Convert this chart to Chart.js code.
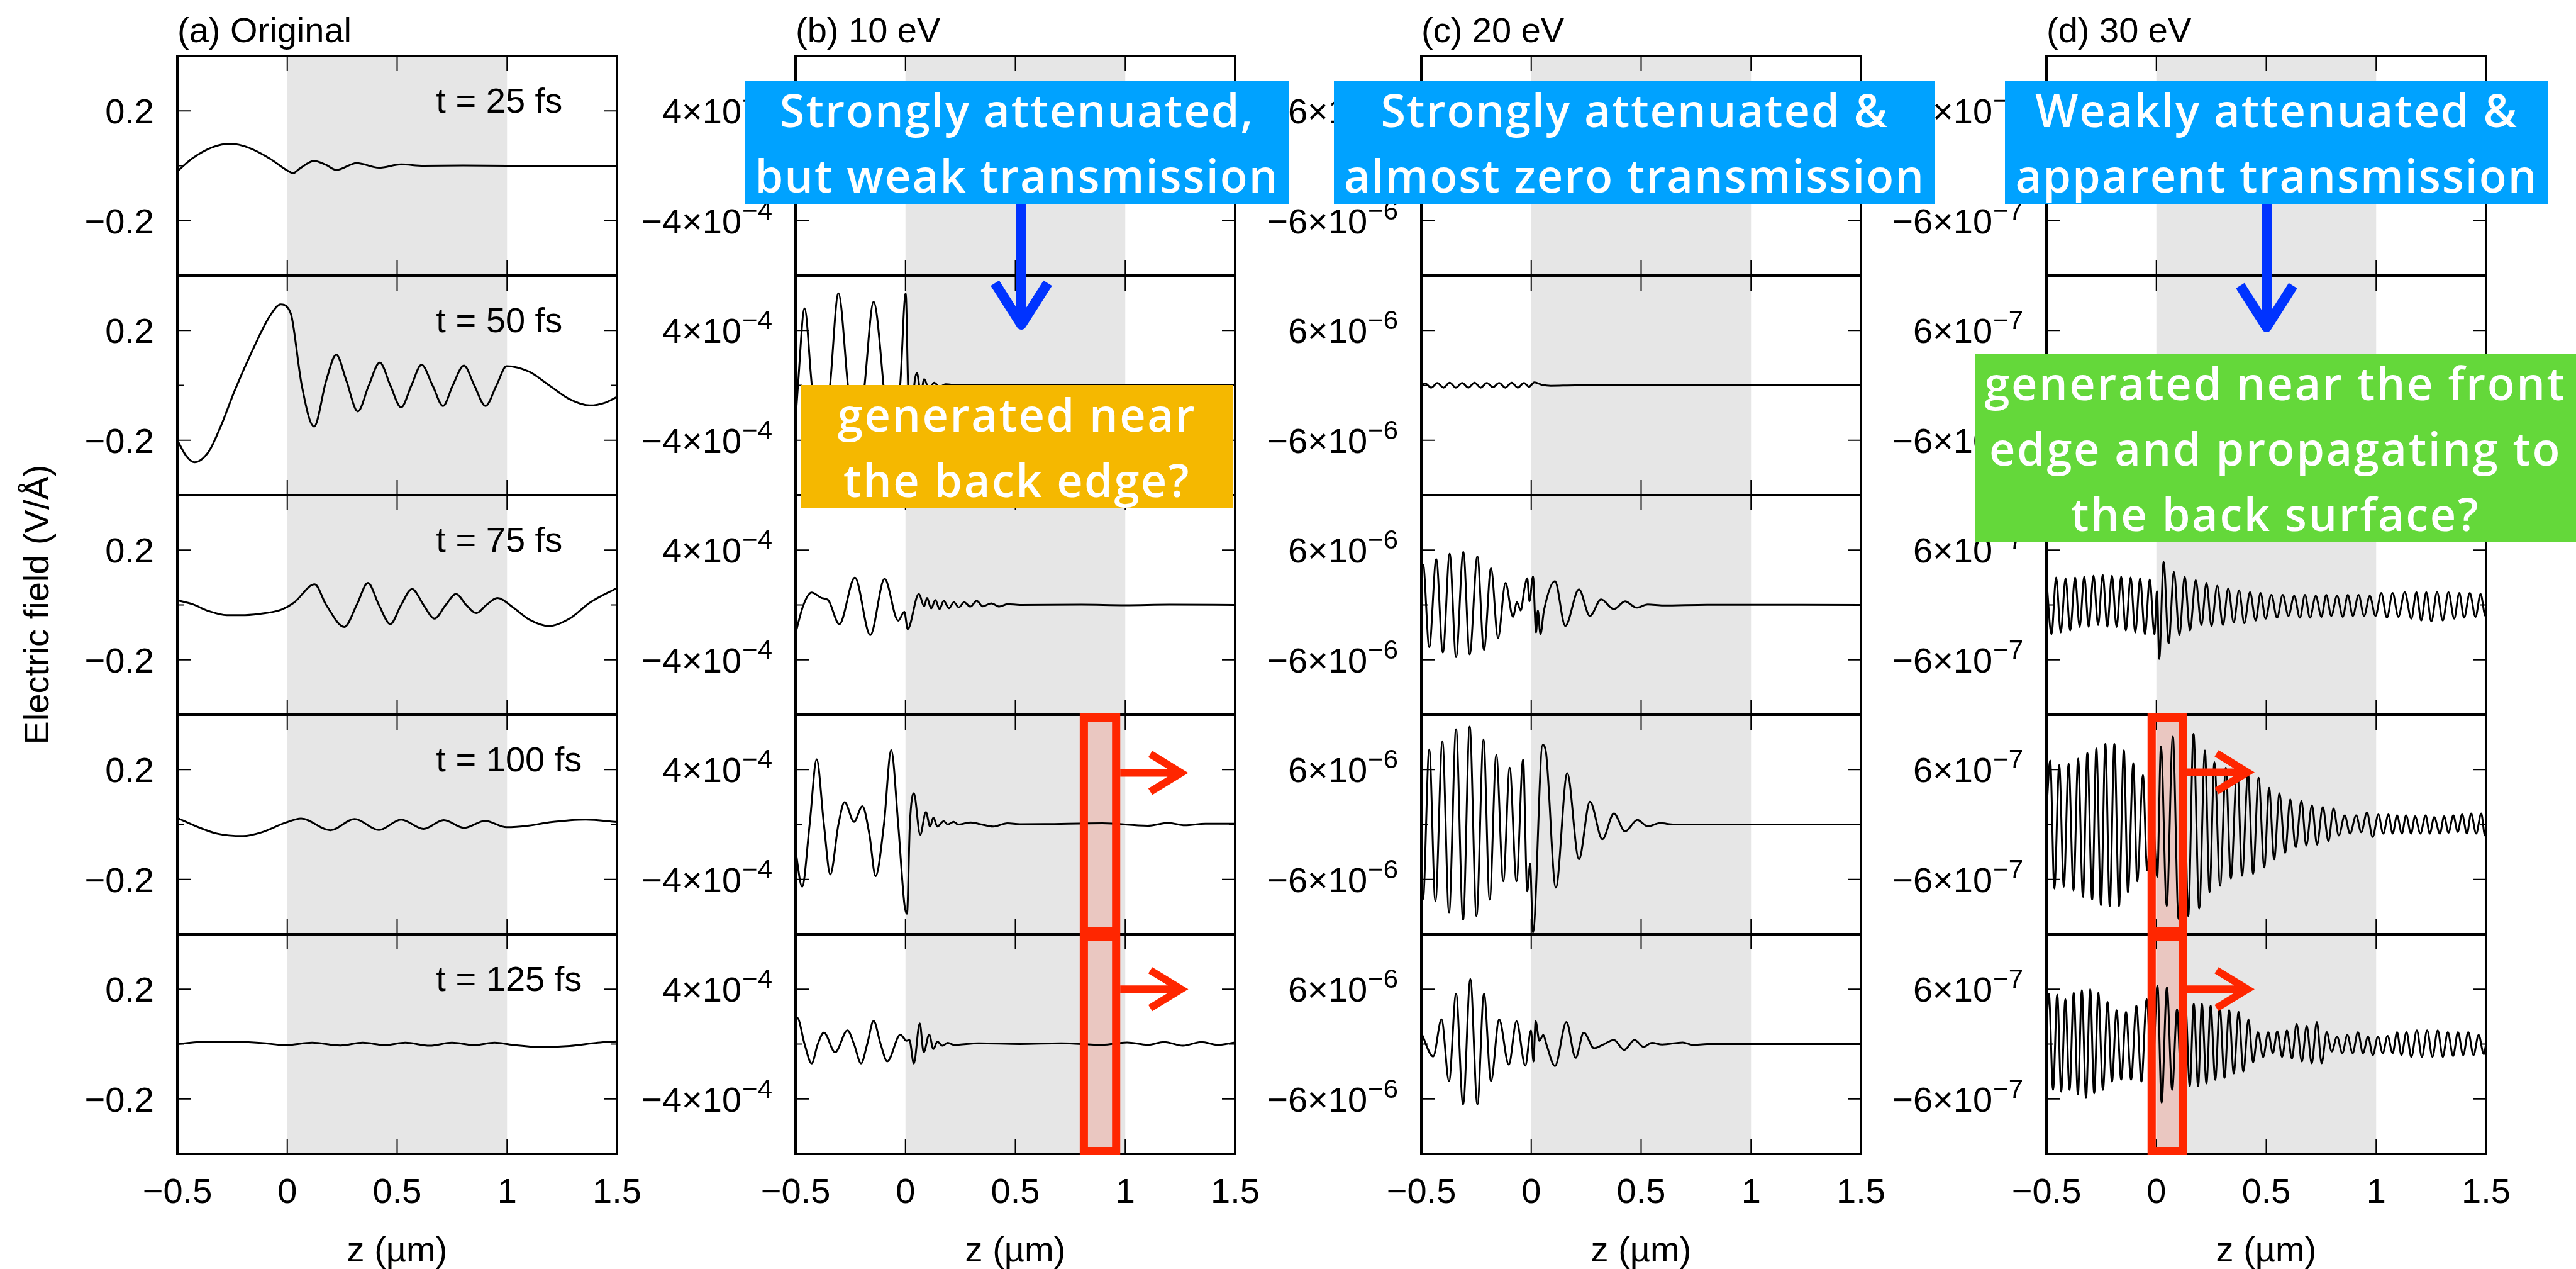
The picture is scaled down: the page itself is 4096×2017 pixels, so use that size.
<!DOCTYPE html>
<html>
<head>
<meta charset="utf-8">
<script src="https://cdn.jsdelivr.net/npm/chart.js@4.4.1/dist/chart.umd.min.js"></script>
<style>
  html, body { margin: 0; padding: 0; background: #fff; }
  body { width: 4096px; height: 2017px; position: relative; overflow: hidden;
         font-family: "Liberation Sans", Arial, sans-serif; }
  canvas { position: absolute; }
  .lbl { position: absolute; white-space: nowrap; line-height: 1; color: #000; }
  .note { position: absolute; display: flex; flex-direction: column; justify-content: center;
          align-items: center; color: #fff; font-family: "Open Sans", sans-serif; font-weight: 600;
          font-size: 72px; line-height: 104px; white-space: nowrap; }
  svg { position: absolute; left: 0; top: 0; }
</style>
</head>
<body>
<script>
// axis / label text
const titles = ['(a) Original', '(b) 10 eV', '(c) 20 eV', '(d) 30 eV'];
const times = ['t = 25 fs', 't = 50 fs', 't = 75 fs', 't = 100 fs', 't = 125 fs'];
const zTicks = [-0.5, 0, 0.5, 1, 1.5];
const zTickLabels = ['−0.5', '0', '0.5', '1', '1.5'];
// column a in V/Å, columns b, c, d in units of 10^-exp V/Å
const yTickValue = [0.2, 4, 6, 6];
const yTickExp = [null, 4, 6, 7];
const yRange = [0.4, 8, 12, 12];

// (a) original pulse, [z (µm), E]
const orig25 = [[-0.5,-0.02],[-0.432,0.027],[-0.339,0.068],[-0.256,0.08],[-0.173,0.065],[-0.081,0.027],[0.002,-0.018],[0.026,-0.027],[0.057,-0.01],[0.122,0.018],[0.177,0.003],[0.223,-0.015],[0.316,0.01],[0.417,-0.007],[0.518,0.005],[0.62,0],[0.8,0.001],[1.0,0],[1.5,0]];
const orig50 = [[-0.5,-0.2],[-0.459,-0.258],[-0.423,-0.28],[-0.358,-0.242],[-0.303,-0.15],[-0.238,-0.017],[-0.155,0.133],[-0.081,0.25],[-0.03,0.295],[0.002,0.283],[0.02,0.25],[0.066,0],[0.122,-0.15],[0.177,0.017],[0.223,0.112],[0.269,0.017],[0.321,-0.095],[0.371,0],[0.421,0.083],[0.469,0],[0.518,-0.08],[0.565,0],[0.611,0.075],[0.661,0],[0.709,-0.075],[0.753,0],[0.804,0.072],[0.851,0],[0.902,-0.075],[0.952,0],[0.998,0.07],[1.1,0.05],[1.192,0],[1.284,-0.05],[1.376,-0.073],[1.45,-0.062],[1.5,-0.042]];
const orig75 = [[-0.5,0.017],[-0.432,0.003],[-0.358,-0.022],[-0.275,-0.037],[-0.192,-0.037],[-0.1,-0.03],[-0.026,-0.017],[0.03,0.008],[0.125,0.075],[0.177,0],[0.26,-0.08],[0.316,0],[0.367,0.08],[0.417,0],[0.469,-0.07],[0.518,0],[0.568,0.058],[0.62,0],[0.67,-0.05],[0.721,0],[0.768,0.04],[0.814,0],[0.86,-0.03],[0.906,0],[0.956,0.025],[1.026,-0.008],[1.1,-0.053],[1.192,-0.077],[1.284,-0.05],[1.376,0.008],[1.5,0.062]];
const orig100 = [[-0.5,0.024],[-0.413,-0.007],[-0.321,-0.033],[-0.201,-0.042],[-0.118,-0.029],[-0.007,0.007],[0.063,0.022],[0.196,-0.021],[0.306,0.02],[0.417,-0.02],[0.518,0.018],[0.62,-0.016],[0.712,0.016],[0.804,-0.012],[0.9,0.013],[0.998,-0.01],[1.1,-0.004],[1.192,0.008],[1.358,0.018],[1.5,0.009]];
const orig125 = [[-0.5,0],[-0.413,0.007],[-0.266,0.009],[-0.118,0.004],[-0.007,-0.004],[0.113,0.005],[0.242,-0.005],[0.343,0.005],[0.445,-0.004],[0.537,0.005],[0.648,-0.006],[0.749,0.005],[0.851,-0.004],[0.943,0.005],[1.026,-0.003],[1.155,-0.011],[1.284,-0.007],[1.413,0.005],[1.5,0.01]];

// (b) 10 eV, E in 1e-4 V/Å
const ev10_25 = [[-0.5,0],[0,0],[1.5,0]];
const ev10_50 = [[-0.5,-2.5],[-0.489,0],[-0.459,5.6],[-0.426,0],[-0.382,-5.5],[-0.343,0],[-0.305,6.7],[-0.262,0],[-0.225,-5.8],[-0.186,0],[-0.145,6.1],[-0.1,0],[-0.072,-5.8],[-0.024,0],[0.001,6.7],[0.012,0],[0.025,-4.0],[0.04,0],[0.052,0.9],[0.07,-0.6],[0.085,0.45],[0.108,-0.3],[0.13,0.2],[0.155,-0.1],[0.183,0.08],[0.24,0],[1.5,0]];
const ev10_75 = [[-0.5,-2.06],[-0.464,0],[-0.427,0.9],[-0.38,0.5],[-0.352,0.36],[-0.301,-1.4],[-0.23,2.0],[-0.16,-2.2],[-0.095,1.9],[-0.033,-1.15],[-0.005,-0.5],[0.01,-1.75],[0.061,0.8],[0.085,-0.1],[0.098,0.5],[0.117,-0.25],[0.136,0.36],[0.155,-0.3],[0.174,0.3],[0.198,-0.24],[0.22,0.2],[0.243,-0.18],[0.267,0.2],[0.295,-0.12],[0.324,0.3],[0.352,-0.1],[0.39,0.12],[0.427,-0.12],[0.464,0.06],[0.521,0],[0.8,0.02],[1.0,-0.02],[1.2,0.02],[1.5,0]];
const ev10_100 = [[-0.5,-1.93],[-0.47,-4.53],[-0.436,0],[-0.404,4.74],[-0.371,0],[-0.342,-3.64],[-0.305,0],[-0.277,1.63],[-0.234,0.2],[-0.196,1.33],[-0.164,-0.74],[-0.136,-3.76],[-0.098,0],[-0.065,5.42],[-0.033,0],[-0.005,-5.78],[0.007,-6.5],[0.02,0],[0.038,2.28],[0.067,-0.74],[0.093,0.9],[0.112,-0.15],[0.127,0.5],[0.145,-0.15],[0.174,0.24],[0.192,0],[0.22,0.2],[0.239,0],[0.295,0.15],[0.333,0.05],[0.399,-0.15],[0.464,0.09],[0.521,0.02],[0.633,0.03],[0.896,0.09],[1.102,-0.09],[1.196,0.12],[1.271,-0.06],[1.365,0.06],[1.5,0.06]];
const ev10_125 = [[-0.5,1.7],[-0.492,1.9],[-0.459,0],[-0.427,-1.41],[-0.399,0],[-0.371,0.84],[-0.32,-0.6],[-0.264,1.0],[-0.234,0],[-0.202,-1.41],[-0.174,0],[-0.145,1.68],[-0.113,0],[-0.083,-1.26],[-0.023,0.69],[0.005,0.24],[0.018,0.3],[0.038,-1.41],[0.065,1.5],[0.083,-0.6],[0.108,0.69],[0.127,-0.36],[0.145,0.18],[0.168,-0.12],[0.192,0.09],[0.22,-0.06],[0.333,0.06],[0.52,0],[0.708,0.06],[0.896,-0.06],[1.008,0.12],[1.102,-0.06],[1.177,0.15],[1.262,-0.12],[1.346,0.15],[1.421,-0.06],[1.5,0.12]];

// (c) 20 eV, E in 1e-6 V/Å
const ev20_25 = [[-0.5,0],[0,0],[1.5,0]];
const ev20_50 = [[-0.5,-0.1],[-0.483,0.2],[-0.455,-0.25],[-0.427,0.25],[-0.399,-0.25],[-0.371,0.3],[-0.343,-0.25],[-0.314,0.25],[-0.286,-0.25],[-0.258,0.3],[-0.23,-0.25],[-0.202,0.25],[-0.174,-0.2],[-0.146,0.25],[-0.118,-0.25],[-0.089,0.3],[-0.061,-0.25],[-0.033,0.25],[-0.01,-0.15],[0.014,0.32],[0.05,0.05],[0.089,-0.05],[0.2,0],[1.5,0]];
const ev20_75 = [[-0.5,3.5],[-0.492,4.4],[-0.464,-4.6],[-0.432,5.0],[-0.402,-5.2],[-0.371,5.6],[-0.342,-5.7],[-0.309,5.8],[-0.28,-5.4],[-0.245,5.3],[-0.215,-4.9],[-0.183,4.0],[-0.151,-3.6],[-0.117,2.4],[-0.083,-1.3],[-0.065,0.3],[-0.048,-0.6],[-0.03,1.9],[-0.018,2.9],[-0.008,0.4],[0.008,3.1],[0.022,-3.0],[0.03,-0.6],[0.042,-3.2],[0.058,-0.6],[0.108,2.6],[0.155,-2.3],[0.217,1.7],[0.267,-1.2],[0.318,0.6],[0.376,-0.45],[0.427,0.4],[0.479,-0.3],[0.53,0.05],[0.6,-0.05],[0.8,0.02],[1.5,0]];
const ev20_100 = [[-0.5,-8.0],[-0.4925,-8.2],[-0.464,8.2],[-0.436,-8.4],[-0.404,9.1],[-0.374,-9.6],[-0.342,10.4],[-0.31,-10.4],[-0.28,10.7],[-0.249,-10.0],[-0.217,9.3],[-0.189,-8.2],[-0.159,7.6],[-0.127,-6.2],[-0.098,6.2],[-0.067,-6.2],[-0.037,7.1],[-0.018,-7.3],[-0.005,-4.3],[0.008,-11.8],[0.052,8.7],[0.067,7.9],[0.112,-6.9],[0.164,5.6],[0.217,-3.8],[0.267,2.5],[0.324,-1.6],[0.376,1.2],[0.427,-0.75],[0.483,0.5],[0.53,-0.2],[0.586,0.15],[0.65,0],[1.5,0]];
const ev20_125 = [[-0.5,1.2],[-0.446,-1.35],[-0.408,2.7],[-0.374,-4.05],[-0.342,5.5],[-0.31,-6.6],[-0.277,7.1],[-0.245,-6.6],[-0.215,5.5],[-0.183,-4.05],[-0.146,2.7],[-0.102,-2.25],[-0.067,2.5],[-0.027,-2.35],[-0.001,1.5],[0.01,-1.9],[0.02,2.5],[0.037,0.36],[0.055,1.0],[0.07,-0.1],[0.108,-2.4],[0.16,2.4],[0.202,-1.5],[0.239,1.26],[0.286,-0.45],[0.324,-0.1],[0.376,0.45],[0.423,-0.63],[0.47,0.45],[0.511,-0.3],[0.549,0.13],[0.596,-0.05],[0.689,0.18],[0.736,-0.1],[0.8,0],[1.5,0]];

// (d) 30 eV, E in 1e-7 V/Å
const ev30_25 = [[-0.5,0],[0,0],[1.5,0]];
const ev30_50 = [[-0.5,0],[0,0],[1.5,0]];
const ev30_75 = [[-0.5,2.8],[-0.477,-3.2],[-0.456,3.0],[-0.435,-3.0],[-0.413,2.9],[-0.392,-2.8],[-0.37,3.0],[-0.349,-2.4],[-0.328,3.1],[-0.308,-2.4],[-0.286,3.2],[-0.265,-2.2],[-0.244,3.3],[-0.223,-2.4],[-0.202,3.2],[-0.181,-2.4],[-0.16,3.1],[-0.139,-2.8],[-0.117,3.0],[-0.096,-3.0],[-0.074,2.9],[-0.052,-3.2],[-0.03,2.8],[-0.009,-3.2],[0.003,1.5],[0.013,-5.9],[0.033,4.7],[0.056,-4.2],[0.08,3.6],[0.105,-3.3],[0.129,3.1],[0.153,-2.8],[0.179,2.7],[0.205,-2.2],[0.228,2.4],[0.251,-2.3],[0.277,2.1],[0.303,-2.2],[0.327,1.8],[0.352,-1.9],[0.376,1.6],[0.4,-2.0],[0.426,1.4],[0.452,-1.7],[0.474,1.3],[0.497,-1.5],[0.523,1.1],[0.549,-1.4],[0.575,1.1],[0.601,-1.2],[0.627,1.0],[0.653,-1.4],[0.676,1.1],[0.699,-1.4],[0.725,1.0],[0.751,-1.3],[0.773,1.1],[0.796,-1.2],[0.822,1.0],[0.848,-1.3],[0.871,1.1],[0.894,-1.2],[0.92,1.1],[0.945,-1.2],[0.971,1.0],[0.997,-1.2],[1.023,1.3],[1.049,-1.4],[1.075,1.3],[1.101,-1.3],[1.13,1.4],[1.16,-1.5],[1.183,1.4],[1.205,-1.7],[1.228,1.4],[1.251,-1.8],[1.277,1.4],[1.303,-1.7],[1.329,1.4],[1.355,-1.5],[1.378,1.3],[1.4,-1.4],[1.426,1.3],[1.452,-1.3],[1.475,1.2],[1.497,-1.2],[1.5,-1.0]];
const ev30_100 = [[-0.5,1.5],[-0.483,7.0],[-0.464,-7.0],[-0.442,6.5],[-0.421,-6.8],[-0.399,6.65],[-0.377,-7.2],[-0.356,7.2],[-0.334,-7.9],[-0.314,7.8],[-0.292,-8.2],[-0.273,8.3],[-0.252,-8.8],[-0.232,8.8],[-0.212,-8.9],[-0.191,8.8],[-0.17,-8.9],[-0.148,8.1],[-0.129,-7.4],[-0.105,6.7],[-0.087,-6.2],[-0.061,5.4],[-0.042,-5.0],[-0.02,2.0],[0.004,-5.7],[0.021,8.5],[0.047,-8.9],[0.075,9.6],[0.101,-10.3],[0.122,9.8],[0.145,-10.0],[0.169,9.9],[0.195,-9.2],[0.221,8.1],[0.242,-7.4],[0.264,6.8],[0.29,-6.7],[0.316,6.2],[0.339,-5.9],[0.368,6.5],[0.39,-5.6],[0.417,5.6],[0.44,-5.4],[0.465,5.1],[0.491,-4.7],[0.513,4.0],[0.536,-3.8],[0.56,3.4],[0.586,-3.1],[0.609,2.75],[0.634,-2.5],[0.66,2.6],[0.682,-2.3],[0.708,2.1],[0.731,-2.2],[0.757,1.9],[0.783,-1.8],[0.806,1.75],[0.83,-1.2],[0.857,1.0],[0.881,-1.0],[0.909,1.0],[0.932,-0.85],[0.958,1.3],[0.984,-1.35],[1.01,1.1],[1.032,-1.0],[1.056,1.1],[1.075,-1.0],[1.095,1.0],[1.117,-1.0],[1.136,1.0],[1.159,-1.0],[1.177,0.9],[1.201,-1.0],[1.225,1.0],[1.244,-1.0],[1.264,0.8],[1.29,-1.0],[1.309,0.9],[1.329,-0.9],[1.351,1.0],[1.371,-0.8],[1.391,1.1],[1.413,-1.0],[1.432,1.2],[1.455,-1.0],[1.478,1.2],[1.495,-1.2],[1.5,-0.6]];
const ev30_125 = [[-0.5,2.0],[-0.489,5.5],[-0.47,-5.0],[-0.451,5.4],[-0.433,-5.2],[-0.414,4.9],[-0.395,-5.0],[-0.376,5.6],[-0.357,-5.5],[-0.339,5.9],[-0.32,-5.9],[-0.301,6.0],[-0.283,-5.4],[-0.264,5.6],[-0.243,-5.0],[-0.222,4.6],[-0.202,-4.1],[-0.181,3.7],[-0.16,-3.9],[-0.138,3.5],[-0.115,-3.9],[-0.091,4.2],[-0.068,-4.1],[-0.044,4.9],[-0.02,-4.3],[0.005,6.4],[0.024,-6.4],[0.048,6.2],[0.072,-5.0],[0.094,3.8],[0.114,-4.5],[0.132,4.4],[0.152,-4.6],[0.17,4.4],[0.19,-4.6],[0.207,4.4],[0.228,-4.3],[0.247,4.2],[0.268,-3.9],[0.288,4.1],[0.31,-3.7],[0.331,3.7],[0.352,-3.2],[0.374,3.5],[0.396,-3.0],[0.419,2.7],[0.44,-2.0],[0.462,1.3],[0.486,-1.4],[0.509,1.3],[0.53,-1.0],[0.55,1.4],[0.572,-1.4],[0.594,1.5],[0.617,-1.6],[0.638,2.2],[0.662,-1.9],[0.684,2.0],[0.707,-2.1],[0.73,2.4],[0.752,-2.1],[0.775,1.3],[0.798,-0.8],[0.822,0.8],[0.846,-1.0],[0.869,1.0],[0.893,-1.0],[0.917,1.3],[0.94,-1.0],[0.963,0.8],[0.985,-1.2],[1.008,0.8],[1.03,-1.0],[1.052,0.9],[1.075,-1.0],[1.095,1.3],[1.115,-1.2],[1.138,1.3],[1.16,-1.4],[1.185,1.5],[1.208,-1.4],[1.232,1.5],[1.256,-1.4],[1.28,1.5],[1.303,-1.4],[1.326,1.3],[1.35,-1.3],[1.372,1.3],[1.396,-1.2],[1.419,1.3],[1.443,-1.2],[1.466,1.0],[1.49,-1.1],[1.5,0.0]];

const columns = [
  [orig25, orig50, orig75, orig100, orig125],
  [ev10_25, ev10_50, ev10_75, ev10_100, ev10_125],
  [ev20_25, ev20_50, ev20_75, ev20_100, ev20_125],
  [ev30_25, ev30_50, ev30_75, ev30_100, ev30_125]
];

// red highlight boxes: column-row -> z span, arrow tip and arrow height (fraction of panel)
const marks = {
  '1-3': { z0: 0.793, z1: 0.977, tip: 1.254, ay: 0.265 },
  '1-4': { z0: 0.793, z1: 0.977, tip: 1.254, ay: 0.25 },
  '3-3': { z0: -0.04, z1: 0.14, tip: 0.414, ay: 0.262 },
  '3-4': { z0: -0.04, z1: 0.14, tip: 0.414, ay: 0.25 }
};

// layout (px)
const plotLeft = [282, 1265, 2260, 3254];
const plotW = 699;
const rowTop0 = 89;
const rowH = 349;
const LEFT = 270, RIGHT = 60, PAD = 12, BOTTOM = 110;
const RED = '#ff2600';
const FONT = '56px "Liberation Sans", Arial, sans-serif';

function drawYLabel(ctx, value, exp, xRight, y) {
  const main = (value < 0 ? '−' : '') + Math.abs(value) + (exp ? '×10' : '');
  ctx.textAlign = 'left';
  ctx.textBaseline = 'alphabetic';
  ctx.font = FONT;
  if (!exp) {
    const w = ctx.measureText(main).width;
    ctx.fillText(main, xRight - w, y + 20);
    return;
  }
  const sup = '−' + exp;
  const wMain = ctx.measureText(main).width;
  ctx.font = '42px "Liberation Sans", Arial, sans-serif';
  const wSup = ctx.measureText(sup).width;
  ctx.fillText(sup, xRight - wSup, y - 2);
  ctx.font = FONT;
  ctx.fillText(main, xRight - wSup - wMain - 1, y + 20);
}

const panelPlugin = {
  id: 'panel',
  beforeDatasetsDraw(chart, args, opts) {
    const { ctx, chartArea: a, scales: { x } } = chart;
    ctx.save();
    ctx.fillStyle = '#e6e6e6';
    const g0 = x.getPixelForValue(0), g1 = x.getPixelForValue(1);
    ctx.fillRect(g0, a.top, g1 - g0, a.bottom - a.top);
    if (opts.mark) {
      const m0 = x.getPixelForValue(opts.mark.z0), m1 = x.getPixelForValue(opts.mark.z1);
      ctx.fillStyle = 'rgba(255, 40, 0, 0.16)';
      ctx.fillRect(m0, a.top, m1 - m0, a.bottom - a.top);
    }
    ctx.restore();
  },
  afterDatasetsDraw(chart, args, opts) {
    const { ctx, chartArea: a, scales: { x, y } } = chart;
    ctx.save();
    ctx.strokeStyle = '#000';
    ctx.lineWidth = 2;
    ctx.beginPath();
    [0, 0.5, 1].forEach(v => {
      const px = x.getPixelForValue(v);
      ctx.moveTo(px, a.top); ctx.lineTo(px, a.top + 24);
      ctx.moveTo(px, a.bottom); ctx.lineTo(px, a.bottom - 24);
    });
    [opts.tick, -opts.tick].forEach(v => {
      const py = y.getPixelForValue(v);
      ctx.moveTo(a.left, py); ctx.lineTo(a.left + 21, py);
      ctx.moveTo(a.right, py); ctx.lineTo(a.right - 21, py);
    });
    const p0 = y.getPixelForValue(0);
    ctx.moveTo(a.left, p0); ctx.lineTo(a.left + 10, p0);
    ctx.moveTo(a.right, p0); ctx.lineTo(a.right - 10, p0);
    ctx.stroke();

    ctx.lineWidth = 4;
    ctx.strokeRect(a.left, a.top, a.right - a.left, a.bottom - a.top);

    // tick labels
    ctx.fillStyle = '#000';
    [opts.tick, -opts.tick].forEach(v => drawYLabel(ctx, v, opts.exp, a.left - 37, y.getPixelForValue(v)));
    if (opts.bottom) {
      ctx.font = FONT;
      ctx.textAlign = 'center';
      ctx.textBaseline = 'alphabetic';
      zTicks.forEach((v, i) => ctx.fillText(zTickLabels[i], x.getPixelForValue(v), a.bottom + 78));
    }
    if (opts.time) {
      ctx.font = FONT;
      ctx.textAlign = 'left';
      ctx.textBaseline = 'alphabetic';
      ctx.fillText(opts.time, x.getPixelForValue(0.677), a.top + 90);
    }

    // red box and arrow
    if (opts.mark) {
      const m = opts.mark, lw = 13;
      const m0 = x.getPixelForValue(m.z0), m1 = x.getPixelForValue(m.z1);
      ctx.strokeStyle = RED;
      ctx.lineWidth = lw;
      ctx.lineJoin = 'miter';
      ctx.strokeRect(m0 + lw / 2, a.top - 2 + lw / 2, m1 - m0 - lw, a.bottom - a.top + 4 - lw);
      const ay = a.top + m.ay * (a.bottom - a.top);
      const tip = x.getPixelForValue(m.tip);
      ctx.lineWidth = 12;
      ctx.beginPath();
      ctx.moveTo(m1, ay); ctx.lineTo(tip - 4, ay);
      ctx.moveTo(tip - 49, ay - 30); ctx.lineTo(tip, ay); ctx.lineTo(tip - 49, ay + 30);
      ctx.stroke();
    }
    ctx.restore();
  }
};

for (let c = 0; c < 4; c++) {
  for (let r = 0; r < 5; r++) {
    const bottom = r === 4;
    const cv = document.createElement('canvas');
    cv.width = LEFT + plotW + RIGHT;
    cv.height = PAD + rowH + (bottom ? BOTTOM : PAD);
    cv.style.left = (plotLeft[c] - LEFT) + 'px';
    cv.style.top = (rowTop0 + r * rowH - PAD) + 'px';
    document.body.appendChild(cv);
    new Chart(cv, {
      type: 'line',
      data: {
        datasets: [{
          data: columns[c][r],
          borderColor: '#000',
          borderWidth: 3,
          pointRadius: 0,
          fill: false,
          cubicInterpolationMode: 'monotone'
        }]
      },
      options: {
        responsive: false,
        animation: false,
        devicePixelRatio: 1,
        layout: { padding: { left: LEFT, top: PAD, right: RIGHT, bottom: bottom ? BOTTOM : PAD } },
        scales: {
          x: { type: 'linear', min: -0.5, max: 1.5, display: false },
          y: { type: 'linear', min: -yRange[c], max: yRange[c], display: false }
        },
        plugins: {
          legend: { display: false },
          tooltip: { enabled: false },
          panel: {
            tick: yTickValue[c],
            exp: yTickExp[c],
            bottom: bottom,
            time: c === 0 ? times[r] : null,
            mark: marks[c + '-' + r] || null
          }
        }
      },
      plugins: [panelPlugin]
    });
  }
}

// titles and axis labels
function addLabel(text, left, top, size, extra) {
  const d = document.createElement('div');
  d.className = 'lbl';
  d.textContent = text;
  d.style.left = left + 'px';
  d.style.top = top + 'px';
  d.style.fontSize = size + 'px';
  if (extra) Object.assign(d.style, extra);
  document.body.appendChild(d);
  return d;
}
titles.forEach((t, c) => addLabel(t, plotLeft[c], 20, 56));
plotLeft.forEach(l => addLabel('z (µm)', l, 1958, 56, { width: plotW + 'px', textAlign: 'center' }));
addLabel('Electric field (V/Å)', 58 - 400, 961 - 28, 56,
  { width: '800px', textAlign: 'center', transform: 'rotate(-90deg)' });

// annotation boxes
const notes = [
  { lines: ['Strongly attenuated,', 'but weak transmission'], color: '#00a2ff', box: [1185, 128, 864, 196], textW: 833 },
  { lines: ['Strongly attenuated &', 'almost zero transmission'], color: '#00a2ff', box: [2121, 128, 956, 196], textW: 924 },
  { lines: ['Weakly attenuated &', 'apparent transmission'], color: '#00a2ff', box: [3188, 128, 864, 196], textW: 831 },
  { lines: ['generated near', 'the back edge?'], color: '#f5b800', box: [1273, 612, 688, 196], textW: 570 },
  { lines: ['generated near the front', 'edge and propagating to', 'the back surface?'], color: '#64d83a', box: [3140, 562, 956, 299], textW: 925 }
];
const meas = document.createElement('canvas').getContext('2d');
meas.font = '600 72px "Open Sans", sans-serif';
notes.forEach(n => {
  const d = document.createElement('div');
  d.className = 'note';
  d.style.left = n.box[0] + 'px';
  d.style.top = n.box[1] + 'px';
  d.style.width = n.box[2] + 'px';
  d.style.height = n.box[3] + 'px';
  d.style.background = n.color;
  let widest = n.lines[0];
  n.lines.forEach(l => { if (meas.measureText(l).width > meas.measureText(widest).width) widest = l; });
  const spacing = (n.textW - meas.measureText(widest).width) / widest.length;
  d.style.letterSpacing = spacing.toFixed(2) + 'px';
  n.lines.forEach(l => {
    const s = document.createElement('div');
    s.textContent = l;
    d.appendChild(s);
  });
  document.body.appendChild(d);
});

// blue arrows
const svgNS = 'http://www.w3.org/2000/svg';
const svg = document.createElementNS(svgNS, 'svg');
svg.setAttribute('width', 4096);
svg.setAttribute('height', 2017);
[[1624, 324, 516], [3604, 324, 520]].forEach(([ax, y0, y1]) => {
  const p = document.createElementNS(svgNS, 'path');
  p.setAttribute('d', `M${ax} ${y0} V${y1 - 6} M${ax - 42} ${y1 - 66} L${ax} ${y1} L${ax + 42} ${y1 - 66}`);
  p.setAttribute('stroke', '#0033ff');
  p.setAttribute('stroke-width', 16);
  p.setAttribute('fill', 'none');
  p.setAttribute('stroke-linejoin', 'round');
  svg.appendChild(p);
});
document.body.appendChild(svg);
</script>
</body>
</html>
